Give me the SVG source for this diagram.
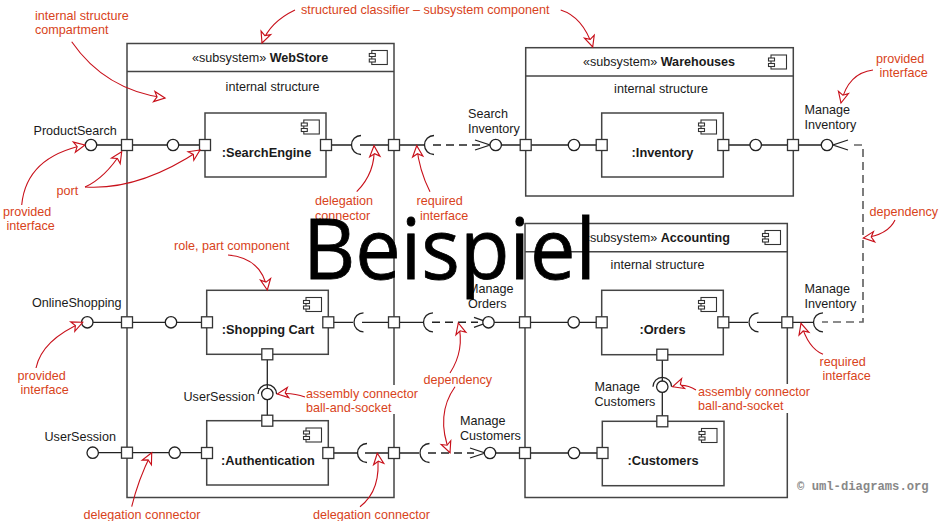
<svg xmlns="http://www.w3.org/2000/svg" xmlns:xlink="http://www.w3.org/1999/xlink" width="940" height="521" viewBox="0 0 940 521">
<style>
text{font-family:"Liberation Sans",Arial,sans-serif;font-size:12.6px;fill:#1a1a1a}
.c{text-anchor:middle}
.b{font-weight:bold}
.nm{font-weight:bold;font-size:12.8px}
.l{fill:#d8431b}
.box{fill:#fff;stroke:#444;stroke-width:1.5}
.inner{fill:none;stroke:#444;stroke-width:1.5}
.ln{fill:none;stroke:#222;stroke-width:1.3}
.dash{fill:none;stroke:#222;stroke-width:1.4;stroke-dasharray:8 5}
.dep{fill:none;stroke:#666;stroke-width:1.7;stroke-dasharray:8 5}
.ball{fill:#fff;stroke:#222;stroke-width:1.3}
.port{fill:#fff;stroke:#333;stroke-width:1.3}
.ar{fill:none;stroke:#c8101a;stroke-width:1.1;marker-end:url(#red)}
.ico{fill:#fff;stroke:#333;stroke-width:1.1}
</style>
<defs>
<marker id="red" markerUnits="userSpaceOnUse" markerWidth="16" markerHeight="16" refX="12" refY="7" orient="auto" viewBox="0 0 14 14" overflow="visible">
<path d="M12,7 L2.5,2.5 L5,7 L2.5,11.5 Z" fill="#fff" stroke="#c8101a" stroke-width="1"/>
</marker>
<g id="icon"><rect class="ico" x="-15.5" y="0" width="15.5" height="14"/><rect class="ico" x="-18" y="3" width="6" height="3"/><rect class="ico" x="-18" y="8.5" width="6" height="3"/></g>
</defs>
<rect width="940" height="521" fill="#fff"/>

<g id="WebStore">
<rect class="box" x="127" y="43.5" width="267" height="454"/>
<path class="inner" d="M127,71.5H394"/>
<text x="192" y="61.5">«subsystem» <tspan class="b">WebStore</tspan></text>
<use xlink:href="#icon" href="#icon" x="387.3" y="50.5"/>
<text class="c" x="272.5" y="90.5">internal structure</text>
</g>
<g id="Warehouses">
<rect class="box" x="525.7" y="47.7" width="267.6" height="148.3"/>
<path class="inner" d="M525.7,76H793.3"/>
<text x="583" y="65.5">«subsystem» <tspan class="b">Warehouses</tspan></text>
<use xlink:href="#icon" href="#icon" x="786.5" y="55"/>
<text class="c" x="661" y="93">internal structure</text>
</g>
<g id="Accounting">
<rect class="box" x="525" y="223.5" width="262.3" height="274"/>
<path class="inner" d="M525,251.7H787.3"/>
<text x="583" y="241.5">«subsystem» <tspan class="b">Accounting</tspan></text>
<use xlink:href="#icon" href="#icon" x="780.5" y="230.5"/>
<text class="c" x="657.5" y="268.5">internal structure</text>
</g>

<g id="connectors">
<path class="ln" d="M91,145H205M326,145H351M360,145H424"/>
<path class="ln" d="M361,135.5A9.5,9.5 0 0 0 361,154.5"/>
<path class="ln" d="M434,135.5A9.5,9.5 0 0 0 434,154.5"/>
<path class="dash" d="M433,145H480"/>
<path class="ln" d="M475,140L490,145L475,150M496,145H602"/>
<path class="ln" d="M723,145H827M848,140L833,145L848,150"/>
<path class="dep" d="M854,145H863V322H822"/>
<path class="ln" d="M87,322.3H207M328,322.3H353M362,322.3H423"/>
<path class="ln" d="M363.5,312.8A9.5,9.5 0 0 0 363.5,331.8"/>
<path class="ln" d="M433,312.8A9.5,9.5 0 0 0 433,331.8"/>
<path class="dash" d="M432,322.3H478"/>
<path class="ln" d="M474,317.3L488,322.3L474,327.3M488,322.3H602"/>
<path class="ln" d="M723,322.3H748M757,322.3H813"/>
<path class="ln" d="M758.5,312.8A9.5,9.5 0 0 0 758.5,331.8"/>
<path class="ln" d="M823,312.8A9.5,9.5 0 0 0 823,331.8"/>
<path class="ln" d="M93,452.7H207M328,453H357M365,453H419"/>
<path class="ln" d="M367,443.5A9.5,9.5 0 0 0 367,462.5"/>
<path class="ln" d="M429.5,443.5A9.5,9.5 0 0 0 429.5,462.5"/>
<path class="dash" d="M428,453H474"/>
<path class="ln" d="M470,448L485,453L470,458M490,453H602"/>
<path class="ln" d="M267.3,354V421"/>
<path class="ln" d="M258,394A9.3,9.3 0 0 1 276.6,394"/>
<path class="ln" d="M662.3,354V421"/>
<path class="ln" d="M653,386.7A9.3,9.3 0 0 1 671.6,386.7"/>
</g>

<g id="SearchEngine">
<rect class="box" x="205" y="113" width="121" height="64"/>
<use xlink:href="#icon" href="#icon" x="319.3" y="120"/>
<text class="c nm" x="266.5" y="156.5">:SearchEngine</text>
</g>
<g id="Inventory">
<rect class="box" x="601.7" y="113" width="121.6" height="64"/>
<use xlink:href="#icon" href="#icon" x="716.5" y="120"/>
<text class="c nm" x="662.5" y="157">:Inventory</text>
</g>
<g id="ShoppingCart">
<rect class="box" x="206.7" y="290.3" width="121.6" height="64"/>
<use xlink:href="#icon" href="#icon" x="321.5" y="297.5"/>
<text class="c nm" x="268" y="334">:Shopping Cart</text>
</g>
<g id="Authentication">
<rect class="box" x="206.7" y="420.7" width="121.6" height="64.3"/>
<use xlink:href="#icon" href="#icon" x="321.5" y="428"/>
<text class="c nm" x="268" y="464.5">:Authentication</text>
</g>
<g id="Orders">
<rect class="box" x="601.7" y="290.3" width="121.6" height="64.4"/>
<use xlink:href="#icon" href="#icon" x="716.5" y="297.5"/>
<text class="c nm" x="662.5" y="334">:Orders</text>
</g>
<g id="Customers">
<rect class="box" x="602.3" y="421.3" width="121.7" height="64.4"/>
<use xlink:href="#icon" href="#icon" x="717" y="428.5"/>
<text class="c nm" x="663" y="465">:Customers</text>
</g>

<g id="balls">
<circle class="ball" cx="91" cy="145" r="5.7"/>
<circle class="ball" cx="173" cy="145" r="5.7"/>
<circle class="ball" cx="495.7" cy="145" r="5.7"/>
<circle class="ball" cx="574" cy="145" r="5.7"/>
<circle class="ball" cx="755.7" cy="145" r="5.7"/>
<circle class="ball" cx="827" cy="145" r="5.7"/>
<circle class="ball" cx="87.3" cy="322.3" r="5.7"/>
<circle class="ball" cx="171" cy="322.3" r="5.7"/>
<circle class="ball" cx="488.5" cy="322.3" r="5.7"/>
<circle class="ball" cx="573.7" cy="322.3" r="5.7"/>
<circle class="ball" cx="92.7" cy="452.7" r="5.7"/>
<circle class="ball" cx="174.7" cy="452.7" r="5.7"/>
<circle class="ball" cx="490" cy="453" r="5.7"/>
<circle class="ball" cx="574" cy="453" r="5.7"/>
<circle class="ball" cx="267.3" cy="394" r="5.7"/>
<circle class="ball" cx="662.3" cy="386.7" r="5.7"/>
</g>
<g id="ports">
<rect class="port" x="121.5" y="139.5" width="11" height="11"/>
<rect class="port" x="199.5" y="139.5" width="11" height="11"/>
<rect class="port" x="320.5" y="139.5" width="11" height="11"/>
<rect class="port" x="388.5" y="139.5" width="11" height="11"/>
<rect class="port" x="520.2" y="139.5" width="11" height="11"/>
<rect class="port" x="596.2" y="139.5" width="11" height="11"/>
<rect class="port" x="717.8" y="139.5" width="11" height="11"/>
<rect class="port" x="787.5" y="139.5" width="11" height="11"/>
<rect class="port" x="121.5" y="316.8" width="11" height="11"/>
<rect class="port" x="201.5" y="316.8" width="11" height="11"/>
<rect class="port" x="322.8" y="316.8" width="11" height="11"/>
<rect class="port" x="388.5" y="316.8" width="11" height="11"/>
<rect class="port" x="519.5" y="316.8" width="11" height="11"/>
<rect class="port" x="596.2" y="316.8" width="11" height="11"/>
<rect class="port" x="717.8" y="316.8" width="11" height="11"/>
<rect class="port" x="781.8" y="316.8" width="11" height="11"/>
<rect class="port" x="121.5" y="447.2" width="11" height="11"/>
<rect class="port" x="201.5" y="447.5" width="11" height="11"/>
<rect class="port" x="322.8" y="447.5" width="11" height="11"/>
<rect class="port" x="388.5" y="447.5" width="11" height="11"/>
<rect class="port" x="519.5" y="447.5" width="11" height="11"/>
<rect class="port" x="597" y="447.5" width="11" height="11"/>
<rect class="port" x="261.8" y="348.8" width="11" height="11"/>
<rect class="port" x="261.8" y="415.2" width="11" height="11"/>
<rect class="port" x="656.8" y="349.2" width="11" height="11"/>
<rect class="port" x="656.8" y="415.8" width="11" height="11"/>
</g>

<g id="names">
<text x="33.5" y="134.5">ProductSearch</text>
<text x="32" y="306.5">OnlineShopping</text>
<text x="44.5" y="440.5">UserSession</text>
<text x="183.5" y="401">UserSession</text>
<text x="468" y="117.5">Search</text>
<text x="468" y="132.5">Inventory</text>
<text x="804.5" y="114">Manage</text>
<text x="804.5" y="129">Inventory</text>
<text x="468" y="292.5">Manage</text>
<text x="468" y="307.5">Orders</text>
<text x="804.5" y="292.5">Manage</text>
<text x="804.5" y="307.5">Inventory</text>
<text x="594.5" y="390.5">Manage</text>
<text x="594.5" y="405.5">Customers</text>
<text x="460" y="425">Manage</text>
<text x="460" y="440">Customers</text>
</g>

<g id="annotations">
<rect x="304" y="385" width="116" height="29" fill="#fff"/>
<rect x="697" y="384" width="116" height="29" fill="#fff"/>
<path class="ar" d="M71.7,41.7Q105,90 165,98"/>
<path class="ar" d="M295,10Q270,22 262,43"/>
<path class="ar" d="M560.7,10Q583,17 592.7,47"/>
<path class="ar" d="M21.7,205C25,170 50,152 85,145"/>
<path class="ar" d="M85,187Q105,178 121.7,151.7"/>
<path class="ar" d="M85,187C130,190 170,170 200,150"/>
<path class="ar" d="M356.7,191.7Q376,172 374,145.7"/>
<path class="ar" d="M430,191.7Q419,170 416.7,145.7"/>
<path class="ar" d="M228,255Q262,258 267.3,290"/>
<path class="ar" d="M36,368Q42,340 82.7,322.3"/>
<path class="ar" d="M305,397Q292,392 277.3,394"/>
<path class="ar" d="M131.7,506.7Q138,480 151.7,452.7"/>
<path class="ar" d="M360,506.7Q382,490 377.3,453.3"/>
<path class="ar" d="M450,373Q465,350 458.3,323"/>
<path class="ar" d="M455,386.7Q435,415 450,452.7"/>
<path class="ar" d="M873,70Q848,73 841,103"/>
<path class="ar" d="M895,220Q888,235 863.3,238"/>
<path class="ar" d="M823,354.3Q808,348 801,323.3"/>
<path class="ar" d="M696,390Q685,383 672.7,386.7"/>
<text class="l" x="35" y="20">internal structure</text>
<text class="l" x="35" y="34">compartment</text>
<text class="l" x="301" y="13.5">structured classifier – subsystem component</text>
<text class="l" x="876" y="63">provided</text>
<text class="l" x="879.5" y="77">interface</text>
<text class="l" x="3" y="216">provided</text>
<text class="l" x="6.5" y="230">interface</text>
<text class="l" x="56.5" y="195">port</text>
<text class="l" x="315" y="205">delegation</text>
<text class="l" x="315" y="220">connector</text>
<text class="l" x="416.5" y="205">required</text>
<text class="l" x="420" y="220">interface</text>
<text class="l" x="174" y="250">role, part component</text>
<text class="l" x="869.5" y="216">dependency</text>
<text class="l" x="17.5" y="380">provided</text>
<text class="l" x="20.5" y="394">interface</text>
<text class="l" x="306" y="398">assembly connector</text>
<text class="l" x="306" y="412">ball-and-socket</text>
<text class="l" x="423.5" y="384">dependency</text>
<text class="l" x="698" y="396">assembly connector</text>
<text class="l" x="698" y="410">ball-and-socket</text>
<text class="l" x="819.5" y="366">required</text>
<text class="l" x="822.5" y="380">interface</text>
<text class="l" x="83.5" y="519">delegation connector</text>
<text class="l" x="313" y="519">delegation connector</text>
</g>
<text x="797" y="490" style="font-family:'Liberation Mono',monospace;font-size:12.2px;font-weight:bold;fill:#888">© uml-diagrams.org</text>
<text x="303" y="279" textLength="293" lengthAdjust="spacingAndGlyphs" style="font-family:'Open Sans',sans-serif;font-size:85px;fill:#000;stroke:#000;stroke-width:.8">Beispiel</text>
</svg>
